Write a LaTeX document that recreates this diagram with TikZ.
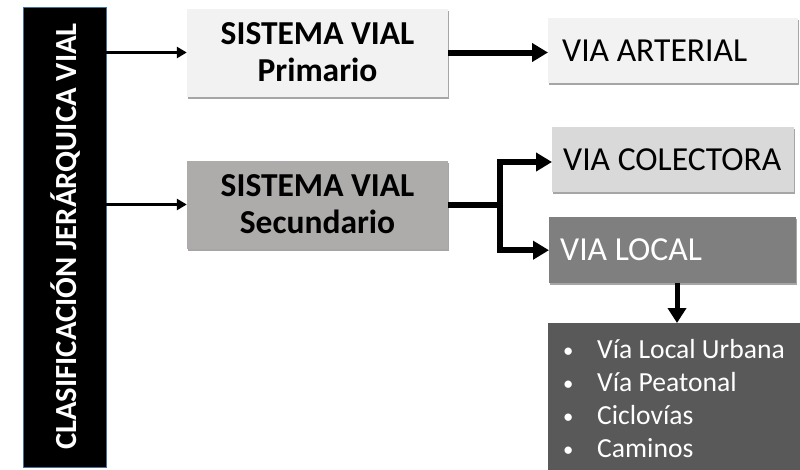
\documentclass[tikz,border=0pt]{standalone}
\usepackage{fontspec}
\setmainfont{Carlito}
\usetikzlibrary{arrows.meta,shadows,positioning,calc}
\definecolor{cprim}{HTML}{F2F2F2}
\definecolor{csec}{HTML}{AEABAB}
\definecolor{ccol}{HTML}{D9D9D9}
\definecolor{cloc}{HTML}{7F7F7F}
\definecolor{clst}{HTML}{595959}
\definecolor{cborder}{HTML}{41719C}
\newcommand{\blt}{\makebox[34pt][l]{\raisebox{1pt}{\scalebox{0.75}{\textbullet}}}}
\newcommand{\natsp}{\spaceskip=0pt\relax\xspaceskip=0pt\relax}
\tikzset{
  shad/.style={drop shadow={shadow xshift=1.2pt,shadow yshift=-2pt,opacity=0.35,fill=black}},
  sysbox/.style={shad,draw=none,minimum width=261pt,minimum height=88pt,inner sep=0pt,align=center,
     font=\fontsize{33.5}{37}\selectfont\bfseries},
  viabox/.style={shad,draw=none,anchor=north west,minimum height=65pt,text width=222pt,inner xsep=14pt,inner ysep=0pt,align=left,
     font=\fontsize{33.6}{37}\selectfont},
  thinarrow/.style={line width=2.5pt,-{Triangle[length=10pt,width=11pt]}},
  thickarrow/.style={line width=6pt,-{Triangle[length=16pt,width=18pt]}},
  thickline/.style={line width=6pt}
}
\begin{document}
\begin{tikzpicture}[x=1pt,y=-1pt]
\useasboundingbox (0,0) rectangle (800,469);
% left vertical box
\node[fill=black,draw=cborder,line width=0.8pt,minimum width=83pt,minimum height=460pt,inner sep=0pt] (cls) at (64.5,237.5) {};
\node[rotate=90,text=white,font=\fontsize{30.7}{36}\selectfont\bfseries] (clst) at (65.5,236.5) {CLASIFICACIÓN JERÁRQUICA VIAL};
% system boxes
\node[sysbox,fill=cprim] (prim) at (317.5,52.5) {\natsp SISTEMA VIAL\\Primario};
\node[sysbox,fill=csec] (sec) at (317.5,204.5) {\natsp SISTEMA VIAL\\Secundario};
% via boxes
\node[viabox,fill=cprim] (art) at (548,18) {\natsp VIA ARTERIAL};
\node[viabox,fill=ccol,text width=220pt,inner xsep=11pt] (col) at (552,127) {\natsp VIA COLECTORA};
\node[viabox,fill=cloc,text=white,minimum height=66pt,text width=225pt,inner xsep=11pt] (loc) at (549,217) {\natsp VIA LOCAL};
\node[shad,fill=clst,text=white,anchor=north west,minimum height=150pt,text width=222pt,inner xsep=15pt,inner ysep=0pt,align=left,
  font=\fontsize{27.6}{33}\selectfont] (lst) at (548,323)
  {\natsp\blt Vía Local Urbana\\
   \blt Vía Peatonal\\
   \blt Ciclovías\\
   \blt Caminos};
% connectors
\draw[thinarrow] (cls.east |- prim.west) -- (prim.west);
\draw[thinarrow] (cls.east |- sec.west) -- (sec.west);
\draw[thickarrow] (prim.east) -- (prim.east -| art.west);
\coordinate (br) at (500,204.5);
\coordinate (colin) at (552,162);
\draw[thickline] (sec.east) -- (br);
\draw[thickarrow] (br) |- (colin);
\draw[thickarrow] (br) |- (loc.west);
\coordinate (dx) at (677,0);
\draw[line width=5pt,-{Triangle[length=15pt,width=18pt]}] (loc.south -| dx) -- (lst.north -| dx);
\end{tikzpicture}
\end{document}
